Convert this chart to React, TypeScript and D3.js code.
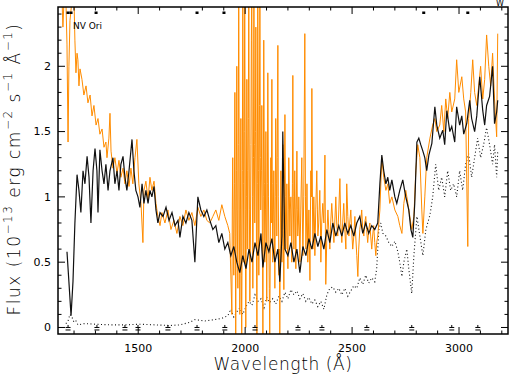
import { useEffect, useRef } from 'react';
import * as d3 from 'd3';

// [wavelength (A), flux (1e-13 erg/cm2/s/A)]
const blackSpec: [number, number][] = [
  [1167, 0.58], [1176, 0.35], [1186, 0.09], [1195, 0.35], [1204, 0.8], [1214, 1.17], [1223, 1.05],
  [1232, 0.88], [1242, 1.2], [1251, 1.1], [1261, 1.31], [1270, 1.15], [1279, 0.8], [1289, 1.2],
  [1298, 1.37], [1307, 1.2], [1312, 0.88], [1321, 1.36], [1331, 1.2], [1340, 1.1], [1349, 1.25],
  [1359, 1.05], [1368, 1.2], [1382, 1.3], [1391, 1.1], [1401, 1.2], [1410, 1.05], [1419, 1.25],
  [1429, 1.31], [1438, 1.15], [1447, 1.05], [1457, 1.2], [1471, 1.44], [1480, 1.2], [1489, 1.05],
  [1499, 1.0], [1508, 0.92], [1518, 1.1], [1527, 0.95], [1536, 1.05], [1546, 0.95], [1555, 1.05],
  [1564, 1.0], [1574, 1.08], [1583, 0.9], [1592, 0.8], [1602, 0.88], [1616, 0.85], [1630, 0.92],
  [1644, 0.82], [1658, 0.88], [1672, 0.78], [1686, 0.82], [1695, 0.69], [1709, 0.85], [1723, 0.8],
  [1737, 0.88], [1751, 0.82], [1765, 0.5], [1779, 1.0], [1793, 0.9], [1807, 0.85], [1821, 0.9],
  [1835, 0.82], [1849, 0.75], [1863, 0.78], [1877, 0.65], [1891, 0.72], [1905, 0.6], [1919, 0.65],
  [1933, 0.55], [1947, 0.62], [1961, 0.5], [1975, 0.42], [1989, 0.55], [2004, 0.45], [2018, 0.6],
  [2032, 0.5], [2046, 0.65], [2060, 0.55], [2074, 0.72], [2083, 0.46], [2097, 0.65], [2111, 0.58],
  [2125, 0.68], [2139, 0.5], [2153, 0.6], [2162, 0.35], [2172, 0.7], [2176, 1.5], [2186, 0.6],
  [2200, 0.55], [2214, 0.65], [2228, 0.5], [2242, 0.6], [2256, 0.42], [2270, 0.62], [2284, 0.55],
  [2298, 0.68], [2312, 0.6], [2326, 0.72], [2340, 0.62], [2354, 0.7], [2368, 0.6], [2382, 0.75],
  [2396, 0.65], [2410, 0.8], [2424, 0.7], [2438, 0.78], [2452, 0.7], [2466, 0.8], [2480, 0.72],
  [2494, 0.78], [2508, 0.7], [2522, 0.8], [2536, 0.85], [2550, 0.72], [2564, 0.8], [2578, 0.72],
  [2592, 0.78], [2606, 0.75], [2620, 0.8], [2630, 1.1], [2639, 1.32], [2648, 1.2], [2658, 1.1],
  [2667, 1.15], [2676, 1.05], [2686, 1.13], [2700, 1.0], [2709, 0.95], [2723, 1.05], [2737, 1.13],
  [2751, 1.0], [2765, 0.9], [2775, 0.75], [2784, 0.69], [2793, 0.95], [2803, 1.42], [2812, 1.45],
  [2821, 1.4], [2831, 1.35], [2840, 1.3], [2849, 1.2], [2859, 1.32], [2873, 1.41], [2887, 1.69],
  [2896, 1.55], [2910, 1.45], [2924, 1.51], [2933, 1.4], [2943, 1.66], [2957, 1.5], [2966, 1.54],
  [2980, 1.42], [2989, 1.69], [3003, 1.55], [3013, 1.62], [3022, 1.48], [3036, 1.56], [3050, 1.74],
  [3059, 1.6], [3073, 1.5], [3083, 1.62], [3097, 1.92], [3111, 1.66], [3120, 1.55], [3129, 1.7],
  [3143, 1.77], [3157, 2.0], [3166, 1.56], [3176, 1.65], [3181, 1.74]
];

const orangeSpec: [number, number][] = [
  [1144, 2.5], [1148, 2.3], [1153, 2.5], [1162, 2.5], [1167, 2.17], [1172, 1.42], [1176, 2.0],
  [1181, 2.35], [1190, 2.5], [1200, 2.5], [1204, 2.2], [1209, 1.95], [1214, 2.1], [1218, 2.05],
  [1223, 1.85], [1228, 1.98], [1237, 1.9], [1246, 1.78], [1256, 1.85], [1265, 1.72], [1275, 1.78],
  [1284, 1.62], [1293, 1.7], [1303, 1.55], [1312, 1.6], [1321, 1.48], [1331, 1.52], [1340, 1.38],
  [1349, 1.42], [1354, 1.3], [1363, 1.45], [1368, 1.64], [1373, 1.35], [1382, 1.22], [1391, 1.3],
  [1401, 1.18], [1410, 1.28], [1419, 1.15], [1429, 1.22], [1438, 1.1], [1447, 1.2], [1457, 1.08],
  [1466, 1.22], [1475, 1.1], [1485, 1.3], [1494, 1.44], [1503, 1.1], [1513, 0.95], [1522, 0.65],
  [1527, 1.05], [1536, 1.12], [1546, 0.98], [1555, 1.15], [1564, 1.05], [1574, 1.12], [1583, 0.95],
  [1592, 0.85], [1602, 0.78], [1611, 0.88], [1625, 0.8], [1639, 0.9], [1653, 0.75], [1667, 0.82],
  [1681, 0.72], [1695, 0.85], [1709, 0.78], [1723, 0.9], [1737, 0.82], [1751, 0.88], [1765, 0.78],
  [1779, 0.92], [1793, 0.85], [1807, 0.9], [1821, 0.82], [1835, 0.8], [1849, 0.85], [1863, 0.9],
  [1877, 0.82], [1891, 0.94], [1905, 0.85], [1919, 0.78], [1928, 0.72],
  [1938, 0.1], [1940, 0.9], [1942, 1.3], [1945, 0.6], [1947, 0.4], [1950, 1.1], [1952, 1.8],
  [1954, 0.7], [1956, -0.05], [1959, 1.2], [1961, 2.0], [1963, 0.9], [1966, 0.3], [1968, 1.4],
  [1970, 2.6], [1973, 0.8], [1975, 0.1], [1978, 0.9], [1980, 1.6], [1982, 0.4], [1984, -0.05],
  [1987, 1.2], [1989, 2.6], [1992, 1.1], [1994, 0.5], [1996, 1.5], [1998, 2.6], [2001, 0.9],
  [2003, 0.0], [2006, 1.0], [2008, 1.9], [2010, 1.2], [2012, 0.6], [2015, 1.6], [2017, 2.6],
  [2020, 0.9], [2022, 0.2], [2025, 0.8], [2027, 1.4], [2029, 2.2], [2031, 2.6], [2034, 1.0],
  [2036, 0.3], [2039, 1.3], [2041, 2.6], [2043, 1.4], [2045, 0.8], [2048, 1.5], [2050, 2.3],
  [2053, 0.6], [2055, -0.05], [2057, 1.1], [2059, 2.6], [2062, 1.2], [2064, 0.4], [2067, 1.7],
  [2069, 2.6], [2071, 1.3], [2073, 0.9], [2076, 1.2], [2078, 1.7], [2081, 0.6], [2083, -0.05],
  [2085, 1.0], [2087, 2.2], [2090, 1.1], [2092, 0.5], [2095, 0.9], [2097, 1.5], [2099, 0.8],
  [2101, 0.2], [2104, 1.1], [2106, 1.95], [2109, 1.0], [2111, 0.6], [2113, 0.3], [2115, -0.05],
  [2118, 0.7], [2120, 1.3], [2122, 0.8], [2125, 1.9], [2127, 1.1], [2129, 0.5], [2132, 0.9],
  [2134, 1.2], [2137, 0.7], [2139, 0.3], [2141, 1.0], [2143, 1.6], [2146, 1.1], [2148, 0.7],
  [2150, 1.3], [2153, 2.16], [2155, 1.0], [2158, 0.4], [2160, 0.6], [2162, -0.05], [2165, 0.8],
  [2167, 1.2], [2169, 0.9], [2172, 0.5], [2174, 0.9], [2176, 1.4], [2178, 0.8], [2181, 0.29],
  [2183, 0.9], [2186, 1.63], [2188, 1.0], [2190, 0.6], [2193, 0.8], [2195, 1.1], [2197, 0.7],
  [2200, 0.45], [2202, 0.9], [2204, 1.3], [2207, 1.0], [2209, 0.7], [2211, 0.9], [2214, 1.0],
  [2216, 0.8], [2218, 0.5], [2221, 1.1], [2223, 1.93], [2225, 1.0], [2228, 0.6], [2230, 0.9],
  [2232, 1.2], [2235, 0.8], [2237, 0.45], [2239, 0.9], [2242, 1.35], [2244, 0.9], [2246, 0.7],
  [2249, 0.8], [2251, 1.0], [2253, 0.8], [2256, 0.5], [2260, 0.9], [2265, 1.3], [2268, 0.8],
  [2270, 0.55], [2274, 1.0], [2279, 2.25], [2282, 1.0], [2284, 0.6], [2287, 0.8], [2289, 1.1],
  [2291, 0.8], [2293, 0.5], [2298, 0.9], [2303, 0.36], [2305, 0.8], [2307, 1.2], [2310, 1.0],
  [2312, 1.83], [2315, 0.9], [2317, 0.6], [2319, 0.8], [2321, 1.0], [2324, 0.8], [2326, 0.55],
  [2330, 0.9], [2335, 1.2], [2338, 0.9], [2340, 0.7], [2344, 0.8], [2349, 1.05], [2352, 0.8],
  [2354, 0.5], [2358, 0.8], [2363, 0.95], [2368, 0.8], [2373, 1.32], [2375, 0.8], [2377, 0.33],
  [2382, 0.7], [2387, 0.9], [2391, 0.75], [2396, 0.6], [2400, 0.8], [2405, 0.95], [2410, 0.8],
  [2415, 0.65], [2419, 0.8], [2424, 1.0], [2428, 0.8], [2433, 0.7], [2438, 0.9], [2443, 1.14],
  [2447, 0.8], [2452, 0.65], [2456, 0.8], [2461, 0.95], [2466, 0.75], [2471, 0.6], [2475, 1.1],
  [2480, 0.85], [2485, 0.7], [2489, 0.8], [2494, 0.9], [2498, 0.75], [2503, 0.6], [2508, 0.7],
  [2513, 0.85], [2517, 0.7], [2522, 0.55], [2527, 0.39], [2531, 0.6], [2536, 0.75], [2540, 0.8],
  [2545, 0.9], [2550, 0.75], [2555, 0.7], [2559, 0.8], [2564, 0.85], [2568, 0.75], [2573, 0.65],
  [2578, 0.75], [2583, 0.8], [2587, 0.7], [2592, 0.6], [2596, 0.7], [2601, 0.78], [2606, 0.65],
  [2611, 0.55], [2615, 0.65], [2620, 0.7], [2630, 0.9], [2639, 1.3], [2648, 1.15], [2658, 1.05],
  [2667, 1.1], [2676, 0.95], [2686, 1.0], [2700, 0.9], [2714, 0.85], [2723, 0.78], [2733, 0.72],
  [2742, 0.95], [2751, 1.05], [2761, 0.95], [2770, 0.85], [2779, 0.75], [2789, 0.85], [2798, 1.2],
  [2807, 1.4], [2817, 1.3], [2826, 0.9], [2831, 0.72], [2840, 1.0], [2849, 1.3], [2864, 1.45],
  [2877, 1.55], [2887, 1.6], [2896, 1.5], [2910, 1.55], [2919, 1.7], [2929, 1.5], [2938, 1.75],
  [2947, 1.6], [2957, 1.8], [2966, 1.65], [2980, 1.75], [2989, 2.05], [2999, 1.8], [3013, 1.92],
  [3022, 1.75], [3031, 1.65], [3041, 0.62], [3045, 1.6], [3055, 1.8], [3064, 2.05], [3073, 1.8],
  [3083, 1.7], [3092, 1.85], [3101, 2.0], [3111, 1.75], [3120, 1.9], [3129, 2.24], [3139, 2.0],
  [3148, 1.85], [3157, 2.1], [3166, 1.75], [3176, 1.46], [3181, 2.25]
];

const dottedSpec: [number, number][] = [
  [1162, 0.03], [1172, 0.05], [1181, 0.1], [1190, 0.08], [1200, 0.04], [1209, 0.05], [1218, 0.02],
  [1251, 0.03], [1298, 0.025], [1368, 0.02], [1438, 0.02], [1508, 0.025], [1578, 0.02], [1648, 0.015],
  [1695, 0.02], [1742, 0.04], [1765, 0.06], [1812, 0.05], [1858, 0.06], [1891, 0.07], [1919, 0.09],
  [1933, 0.14], [1947, 0.08], [1961, 0.12], [1975, 0.15], [1989, 0.1], [2004, 0.16], [2018, 0.2],
  [2032, 0.17], [2046, 0.25], [2060, 0.2], [2074, 0.22], [2088, 0.15], [2101, 0.23], [2115, 0.19],
  [2129, 0.22], [2143, 0.18], [2158, 0.24], [2172, 0.2], [2186, 0.27], [2200, 0.22], [2214, 0.29],
  [2228, 0.25], [2242, 0.28], [2256, 0.22], [2270, 0.26], [2284, 0.2], [2298, 0.23], [2312, 0.18],
  [2326, 0.21], [2340, 0.16], [2354, 0.2], [2368, 0.14], [2382, 0.25], [2396, 0.3], [2410, 0.31],
  [2424, 0.27], [2438, 0.3], [2452, 0.25], [2466, 0.3], [2480, 0.24], [2494, 0.28], [2508, 0.32],
  [2522, 0.3], [2536, 0.38], [2550, 0.33], [2564, 0.4], [2578, 0.34], [2592, 0.38], [2606, 0.35],
  [2615, 0.45], [2625, 0.75], [2634, 0.8], [2644, 0.72], [2658, 0.7], [2672, 0.65], [2686, 0.62],
  [2700, 0.66], [2714, 0.58], [2723, 0.5], [2733, 0.39], [2742, 0.5], [2756, 0.6], [2765, 0.45],
  [2779, 0.26], [2789, 0.55], [2803, 0.85], [2817, 0.7], [2831, 0.55], [2845, 0.75], [2864, 0.86],
  [2877, 1.0], [2891, 1.25], [2905, 1.05], [2919, 1.15], [2933, 1.0], [2947, 1.2], [2961, 1.05],
  [2975, 1.1], [2989, 1.0], [3003, 1.2], [3017, 1.05], [3031, 1.25], [3045, 1.33], [3059, 1.15],
  [3073, 1.3], [3087, 1.45], [3101, 1.3], [3115, 1.4], [3129, 1.53], [3143, 1.4], [3157, 1.25],
  [3166, 1.4], [3176, 1.15], [3181, 1.35]
];

// little flag marks along the top and bottom edges
const topMarks = [1172, 1186, 1303, 1775, 1901, 2835, 3041];
const bottomMarks = [1172, 1307, 1438, 1499, 1639, 1775, 1905, 2046, 2247, 2359, 2569, 2779, 2966, 3088];

const yTicks = [0, 0.5, 1, 1.5, 2];
const xTicks = [1500, 2000, 2500, 3000];

export default function App() {
  const svgRef = useRef<SVGSVGElement>(null);

  useEffect(() => {
    const svg = d3.select(svgRef.current);
    svg.selectAll('*').remove();

    const width = 511;
    const height = 378;
    const margin = { top: 7, right: 3, bottom: 44, left: 58 };
    const innerWidth = width - margin.left - margin.right;
    const innerHeight = height - margin.top - margin.bottom;

    const x = d3.scaleLinear().domain([1125, 3229]).range([0, innerWidth]);
    const y = d3.scaleLinear().domain([-0.05, 2.454]).range([innerHeight, 0]);

    const g = svg.append('g').attr('transform', `translate(${margin.left},${margin.top})`);

    g.append('clipPath').attr('id', 'plot-clip')
      .append('rect').attr('width', innerWidth).attr('height', innerHeight);

    const line = d3.line<[number, number]>().x(d => x(d[0])).y(d => y(d[1]));
    const plot = g.append('g').attr('clip-path', 'url(#plot-clip)');

    plot.append('path').datum(dottedSpec)
      .attr('d', line).attr('fill', 'none')
      .attr('stroke', '#111').attr('stroke-width', 1.1).attr('stroke-dasharray', '1,2.5');

    plot.append('path').datum(orangeSpec)
      .attr('d', line).attr('fill', 'none')
      .attr('stroke', '#ff8c00').attr('stroke-width', 1);

    plot.append('path').datum(blackSpec)
      .attr('d', line).attr('fill', 'none')
      .attr('stroke', '#111').attr('stroke-width', 1.2);

    // frame
    g.append('rect').attr('width', innerWidth).attr('height', innerHeight)
      .attr('fill', 'none').attr('stroke', '#000').attr('stroke-width', 1.5);

    // ticks, drawn inward on all four sides
    const yMinor = d3.range(0, 2.45, 0.1);
    const xMinor = d3.range(1200, 3229, 100);
    const tickG = g.append('g').attr('stroke', '#000').attr('stroke-width', 1);
    yMinor.forEach(v => {
      const major = yTicks.some(t => Math.abs(t - v) < 1e-6);
      const len = major ? 7 : 3.5;
      tickG.append('line').attr('x1', 0).attr('x2', len).attr('y1', y(v)).attr('y2', y(v));
      tickG.append('line').attr('x1', innerWidth).attr('x2', innerWidth - len).attr('y1', y(v)).attr('y2', y(v));
    });
    xMinor.forEach(v => {
      const major = xTicks.includes(v);
      const len = major ? 7 : 3.5;
      tickG.append('line').attr('x1', x(v)).attr('x2', x(v)).attr('y1', innerHeight).attr('y2', innerHeight - len);
      tickG.append('line').attr('x1', x(v)).attr('x2', x(v)).attr('y1', 0).attr('y2', len);
    });

    const font = 'DejaVu Sans, sans-serif';

    g.selectAll('.ylab').data(yTicks).join('text')
      .attr('x', -7).attr('y', d => y(d)).attr('dy', '0.35em')
      .attr('text-anchor', 'end').attr('font-family', font).attr('font-size', 11)
      .text(d => String(d));

    g.selectAll('.xlab').data(xTicks).join('text')
      .attr('x', d => x(d)).attr('y', innerHeight + 18)
      .attr('text-anchor', 'middle').attr('font-family', font).attr('font-size', 11)
      .text(d => String(d));

    // flag marks
    g.selectAll('.tmark').data(topMarks).join('rect')
      .attr('x', d => x(d) - 1.5).attr('y', 4.5).attr('width', 3).attr('height', 2.5).attr('fill', '#000');
    const bm = g.selectAll('.bmark').data(bottomMarks).join('g')
      .attr('transform', d => `translate(${x(d)},${y(0)})`);
    bm.append('line').attr('x1', -2.5).attr('x2', 2.5).attr('y1', 0).attr('y2', 0).attr('stroke', '#000');
    bm.append('line').attr('x1', -2.5).attr('x2', 2.5).attr('y1', 2.5).attr('y2', 2.5).attr('stroke', '#000');
    bm.append('line').attr('x1', 0).attr('x2', 0).attr('y1', -2.5).attr('y2', 0).attr('stroke', '#000');

    g.append('text').attr('x', 15).attr('y', 22)
      .attr('font-family', font).attr('font-size', 9).text('NV Ori');

    svg.append('text').attr('x', 496).attr('y', 6)
      .attr('font-family', font).attr('font-size', 8).text('W');

    svg.append('text').attr('x', margin.left + innerWidth / 2).attr('y', 370)
      .attr('text-anchor', 'middle').attr('font-family', font).attr('font-size', 17)
      .attr('font-weight', 300).attr('fill', '#000')
      .attr('letter-spacing', 0.6)
      .text('Wavelength (Å)');

    const yt = svg.append('text')
      .attr('transform', `translate(20,169) rotate(-90)`)
      .attr('text-anchor', 'middle').attr('font-family', font).attr('font-size', 17)
      .attr('font-weight', 300).attr('fill', '#000')
      .attr('letter-spacing', 1.5);
    const parts: [string, boolean][] = [
      ['Flux (10', false], ['−13', true], [' erg cm', false], ['−2', true],
      [' s', false], ['−1', true], [' Å', false], ['−1', true], [')', false]
    ];
    parts.forEach(([t, sup], i) => {
      const ts = yt.append('tspan').text(t);
      if (sup) ts.attr('font-size', 12).attr('dy', -8);
      else if (i > 0) ts.attr('dy', 8);
    });
  }, []);

  return <svg ref={svgRef} width={511} height={378} style={{ position: 'absolute', left: 0, top: 0 }} />;
}
